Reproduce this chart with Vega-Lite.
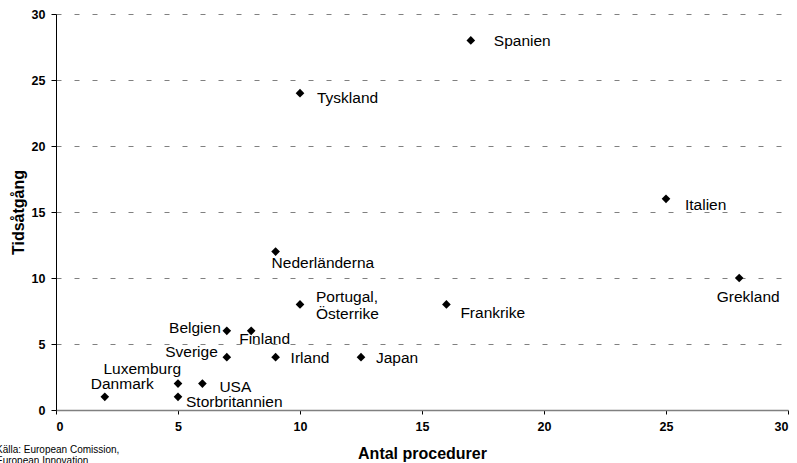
{
  "$schema": "https://vega.github.io/schema/vega-lite/v6.json",
  "width": 732,
  "height": 396,
  "autosize": "none",
  "padding": {"left": 56, "top": 14, "right": 9, "bottom": 53},
  "background": "white",
  "config": {
    "font": "Liberation Sans",
    "view": {"stroke": null},
    "axis": {"labelFont": "Liberation Sans", "titleFont": "Liberation Sans"}
  },
  "title": {
    "text": ["Källa: European Comission,", "European Innovation"],
    "orient": "bottom",
    "anchor": "start",
    "frame": "group",
    "font": "Liberation Sans",
    "fontSize": 10,
    "fontWeight": "normal",
    "color": "black",
    "lineHeight": 11.5,
    "dx": -60,
    "offset": -17
  },
  "data": {
    "values": [
      {"land": "Spanien", "procedurer": 17, "tid": 28},
      {"land": "Tyskland", "procedurer": 10, "tid": 24},
      {"land": "Italien", "procedurer": 25, "tid": 16},
      {"land": "Nederländerna", "procedurer": 9, "tid": 12},
      {"land": "Grekland", "procedurer": 28, "tid": 10},
      {"land": "Frankrike", "procedurer": 16, "tid": 8},
      {"land": "Portugal, Österrike", "procedurer": 10, "tid": 8},
      {"land": "Belgien", "procedurer": 7, "tid": 6},
      {"land": "Finland", "procedurer": 8, "tid": 6},
      {"land": "Sverige", "procedurer": 7, "tid": 4},
      {"land": "Irland", "procedurer": 9, "tid": 4},
      {"land": "Japan", "procedurer": 12.5, "tid": 4},
      {"land": "Luxemburg", "procedurer": 5, "tid": 2},
      {"land": "USA", "procedurer": 6, "tid": 2},
      {"land": "Danmark", "procedurer": 2, "tid": 1},
      {"land": "Storbritannien", "procedurer": 5, "tid": 1}
    ]
  },
  "encoding": {
    "x": {
      "field": "procedurer", "type": "quantitative",
      "scale": {"domain": [0, 30], "nice": false},
      "axis": {
        "title": "Antal procedurer", "values": [0, 5, 10, 15, 20, 25, 30],
        "grid": false, "domainColor": "#808080", "domainWidth": 1.5,
        "tickColor": "black", "tickSize": 4, "ticks": true,
        "labelFontWeight": 700, "labelFontSize": 12.5, "labelColor": "black", "labelPadding": 6,
        "titleFontWeight": "bold", "titleFontSize": 16, "titleColor": "black", "titlePadding": 13
      }
    },
    "y": {
      "field": "tid", "type": "quantitative",
      "scale": {"domain": [0, 30], "nice": false},
      "axis": {
        "title": "Tidsåtgång", "values": [0, 5, 10, 15, 20, 25, 30],
        "grid": true, "gridDash": [5, 13], "gridColor": "#808080", "gridWidth": 1,
        "domainColor": "black", "domainWidth": 1,
        "tickColor": "black", "tickSize": 5,
        "labelFontWeight": 700, "labelFontSize": 12.5, "labelColor": "black", "labelPadding": 6,
        "titleFontWeight": "bold", "titleFontSize": 16, "titleColor": "black", "titlePadding": 5
      }
    }
  },
  "layer": [
    {"mark": {"type": "point", "shape": "diamond", "filled": true, "color": "black", "opacity": 1, "size": 75}},
    {"transform": [{"filter": "datum.land == 'Spanien'"}], "mark": {"type": "text", "align": "left", "baseline": "middle", "dx": 23, "dy": 1, "fontSize": 15.5}, "encoding": {"text": {"field": "land"}}},
    {"transform": [{"filter": "datum.land == 'Tyskland'"}], "mark": {"type": "text", "align": "left", "baseline": "middle", "dx": 17, "dy": 5, "fontSize": 15.5}, "encoding": {"text": {"field": "land"}}},
    {"transform": [{"filter": "datum.land == 'Italien'"}], "mark": {"type": "text", "align": "left", "baseline": "middle", "dx": 19, "dy": 6, "fontSize": 15.5}, "encoding": {"text": {"field": "land"}}},
    {"transform": [{"filter": "datum.land == 'Nederländerna'"}], "mark": {"type": "text", "align": "left", "baseline": "middle", "dx": -4, "dy": 11, "fontSize": 15.5}, "encoding": {"text": {"field": "land"}}},
    {"transform": [{"filter": "datum.land == 'Grekland'"}], "mark": {"type": "text", "align": "center", "baseline": "middle", "dx": 9, "dy": 19, "fontSize": 15.5}, "encoding": {"text": {"field": "land"}}},
    {"transform": [{"filter": "datum.land == 'Frankrike'"}], "mark": {"type": "text", "align": "left", "baseline": "middle", "dx": 14, "dy": 9, "fontSize": 15.5}, "encoding": {"text": {"field": "land"}}},
    {"transform": [{"filter": "datum.land == 'Portugal, Österrike'"}], "mark": {"type": "text", "align": "left", "baseline": "middle", "dx": 16, "dy": -7, "fontSize": 15.5, "lineHeight": 17, "lineBreak": " "}, "encoding": {"text": {"field": "land"}}},
    {"transform": [{"filter": "datum.land == 'Belgien'"}], "mark": {"type": "text", "align": "right", "baseline": "middle", "dx": -6, "dy": -3, "fontSize": 15.5}, "encoding": {"text": {"field": "land"}}},
    {"transform": [{"filter": "datum.land == 'Finland'"}], "mark": {"type": "text", "align": "left", "baseline": "middle", "dx": -12, "dy": 8, "fontSize": 15.5}, "encoding": {"text": {"field": "land"}}},
    {"transform": [{"filter": "datum.land == 'Sverige'"}], "mark": {"type": "text", "align": "right", "baseline": "middle", "dx": -9, "dy": -5, "fontSize": 15.5}, "encoding": {"text": {"field": "land"}}},
    {"transform": [{"filter": "datum.land == 'Irland' || datum.land == 'Japan'"}], "mark": {"type": "text", "align": "left", "baseline": "middle", "dx": 15, "dy": 1, "fontSize": 15.5}, "encoding": {"text": {"field": "land"}}},
    {"transform": [{"filter": "datum.land == 'Luxemburg'"}], "mark": {"type": "text", "align": "right", "baseline": "middle", "dx": 3, "dy": -15, "fontSize": 15.5}, "encoding": {"text": {"field": "land"}}},
    {"transform": [{"filter": "datum.land == 'Danmark'"}], "mark": {"type": "text", "align": "left", "baseline": "middle", "dx": -14, "dy": -13, "fontSize": 15.5}, "encoding": {"text": {"field": "land"}}},
    {"transform": [{"filter": "datum.land == 'USA'"}], "mark": {"type": "text", "align": "left", "baseline": "middle", "dx": 17, "dy": 3, "fontSize": 15.5}, "encoding": {"text": {"field": "land"}}},
    {"transform": [{"filter": "datum.land == 'Storbritannien'"}], "mark": {"type": "text", "align": "left", "baseline": "middle", "dx": 8, "dy": 5, "fontSize": 15.5}, "encoding": {"text": {"field": "land"}}}
  ]
}
